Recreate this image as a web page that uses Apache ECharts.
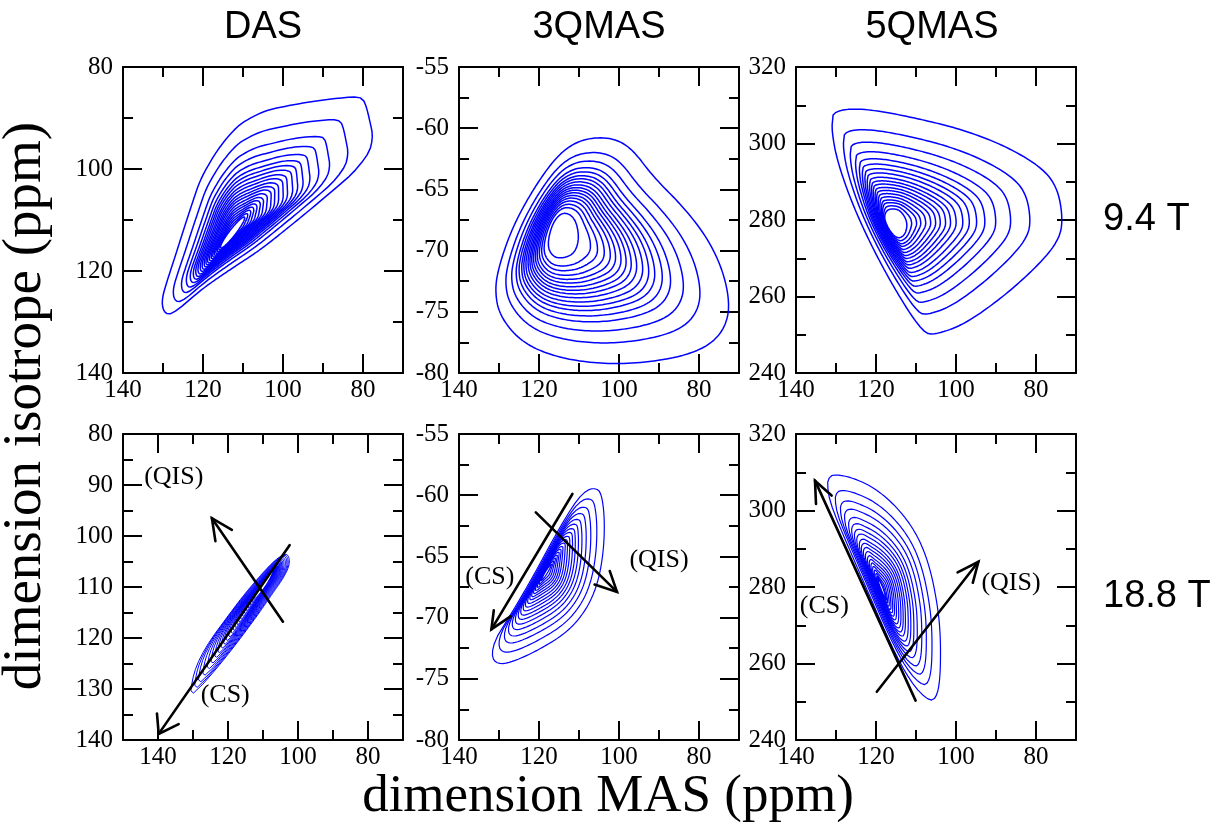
<!DOCTYPE html>
<html><head><meta charset="utf-8">
<script src="https://cdn.jsdelivr.net/npm/echarts@6/dist/echarts.min.js"></script>
<style>html,body{margin:0;padding:0;background:#fff}#c{width:1228px;height:838px}</style>
</head><body><div id="c"></div>
<script>
// ---------------- texts ----------------
const panelTitles = ['DAS', '3QMAS', '5QMAS'];
const fieldLabels = ['9.4 T', '18.8 T'];
const xTitle = 'dimension MAS (ppm)';
const yTitle = 'dimension isotrope (ppm)';
const annotTexts = ['(QIS)', '(CS)'];

// ---------------- axes (panel order: top DAS, 3QMAS, 5QMAS, bottom DAS, 3QMAS, 5QMAS) ----------------
const xRanges = [[70, 140], [70, 140], [70, 140], [70, 150], [70, 140], [70, 140]];
const yRanges = [[80, 140], [-80, -55], [240, 320], [80, 140], [-80, -55], [240, 320]];
const yInverse = [true, false, false, true, false, false];
const xMajor = [140, 120, 100, 80];
const xMinor = [130, 110, 90];
const yMajorDasTop = [80, 100, 120, 140];
const yMinorDasTop = [90, 110, 130];
const yMajor3q = [-80, -75, -70, -65, -60, -55];
const yMinor3q = [-77.5, -72.5, -67.5, -62.5, -57.5];
const yMajor5q = [240, 260, 280, 300, 320];
const yMinor5q = [250, 270, 290, 310];
const yMajorDasBot = [80, 90, 100, 110, 120, 130, 140];
const yMinorDasBot = [85, 95, 105, 115, 125, 135];

// ---------------- contour data ----------------
// each panel: peak centre, outermost contour, innermost contour, relative radial position of every contour level
// top DAS (9.4 T)
const dasTopCenter = [112.6, 112.45];
const dasTopOuter = [[128.5,128.7],[130.0,127.8],[130.3,125.5],[129.0,122.0],[126.9,117.0],[124.9,112.0],[122.6,106.5],[120.75,102.2],[118.0,98.3],[115.75,95.6],[112.5,92.5],[109.9,90.7],[104.1,88.4],[98.0,87.5],[93.25,86.8],[87.0,86.2],[82.4,85.8],[79.9,86.1],[78.9,88.5],[78.2,91.0],[77.6,93.0],[77.8,95.0],[78.6,97.0],[82.4,100.8],[87.5,104.2],[93.25,108.0],[99.5,112.0],[105.75,115.9],[112.0,119.1],[118.25,122.4],[122.5,125.0],[125.75,127.3]];
const dasTopInner = [[115.8,115.7],[114.37,115.04],[111.9,112.86],[109.85,110.44],[109.4,109.2],[110.83,109.86],[113.3,112.04],[115.35,114.46]];
const dasTopLevels = [0,0.029,0.057,0.084,0.111,0.139,0.166,0.197,0.229,0.258,0.289,0.324,0.357,0.396,0.434,0.475,0.527,0.594,0.676,0.814,1];
// top 3QMAS
const q3TopCenter = [114.0, -68.8];
const q3TopOuter = [[105.65,-60.73],[100.65,-60.9],[96.5,-61.77],[91.5,-63.95],[84.0,-66.4],[78.15,-68.85],[74.4,-71.3],[72.5,-73.77],[72.75,-75.68],[75.65,-77.3],[81.5,-78.4],[91.5,-79.1],[103.2,-79.3],[114.8,-78.8],[124.0,-77.6],[129.8,-75.4],[131.1,-73.2],[129.8,-71.0],[126.5,-68.0],[121.5,-65.0],[115.65,-62.3],[110.65,-61.1]];
const q3TopInner = [[114.0,-66.8],[116.6,-67.7],[118.0,-69.55],[116.6,-70.5],[114.0,-70.65],[111.0,-70.2],[109.9,-68.9],[111.0,-67.3]];
const q3TopLevels = [0,0.083,0.13,0.175,0.215,0.25,0.286,0.32,0.354,0.39,0.43,0.47,0.51,0.56,0.615,0.70,0.81,1];
// top 5QMAS
const q5TopCenter = [115.2, 279.3];
const q5TopOuter = [[130.7,308.0],[127.3,309.1],[120.7,308.8],[109.8,306.6],[98.2,303.6],[87.3,299.2],[78.2,293.5],[74.4,287.9],[73.2,279.1],[74.8,273.9],[79.8,267.8],[88.2,259.9],[98.2,252.5],[105.7,249.9],[108.2,250.7],[113.2,258.2],[119.8,270.4],[125.7,283.5],[129.8,295.7],[131.1,303.6],[130.8,306.6]];
const q5TopInner = [[116.1,283.0],[113.9,282.6],[112.1,279.5],[112.6,276.3],[114.4,275.0],[116.4,276.8],[118.0,280.3],[117.5,282.4]];
const q5TopLevels = [0,0.032,0.064,0.091,0.123,0.155,0.187,0.217,0.251,0.283,0.319,0.362,0.404,0.451,0.504,0.574,0.67,0.794,1];
// bottom DAS (18.8 T)
const dasBotCenter = [109.9, 109.7];
const dasBotOuter = [[130.77,130.5],[129.5,126.0],[126.0,121.3],[121.0,116.6],[116.0,112.0],[111.0,107.9],[106.3,104.5],[103.0,103.2],[102.2,105.4],[104.1,108.2],[107.0,111.0],[110.8,114.8],[115.5,119.2],[120.3,123.5],[125.5,127.8],[129.0,130.4],[130.3,131.0]];
const dasBotInner = [[113.5,113.3],[110.49,109.42],[106.3,106.1],[109.31,109.98]];
const dasBotLevels = [0,0.03,0.06,0.09,0.12,0.15,0.18,0.21,0.24,0.27,0.30,0.33,0.36,0.40,0.44,0.48,0.52,0.57,0.62,0.68,0.74,0.81,0.88,0.94,1];
// bottom 3QMAS
const q3BotCenter = [118.15, -66.3];
const q3BotOuter = [[105.65,-59.44],[104.4,-59.85],[103.6,-61.76],[103.8,-64.48],[105.25,-67.2],[108.15,-69.38],[113.15,-71.28],[121.5,-72.9],[128.15,-73.8],[131.1,-73.7],[131.9,-72.9],[130.65,-71.56],[127.3,-69.9],[121.5,-66.66],[115.65,-63.1],[110.65,-60.4],[107.75,-59.5]];
const q3BotInner = [[116.5,-65.43],[117.83,-66.37],[119.8,-67.2],[118.47,-66.23]];
const q3BotLevels = [0,0.045,0.083,0.122,0.16,0.199,0.237,0.282,0.327,0.372,0.423,0.474,0.532,0.596,0.673,0.756,0.865,1];
// bottom 5QMAS
const q5BotCenter = [118.55, 279.65];
const q5BotOuter = [[131.9,308.4],[130.7,309.5],[126.5,308.8],[120.7,306.2],[114.8,301.0],[109.8,294.0],[106.5,285.3],[104.4,274.0],[103.8,265.3],[104.0,254.8],[105.25,250.3],[107.3,250.6],[111.1,254.8],[115.7,263.5],[121.5,277.5],[127.3,291.4],[131.5,301.9],[132.2,306.7]];
const q5BotInner = [[119.8,283.1],[118.2,279.79],[117.3,276.2],[118.9,279.51]];
const q5BotLevels = [0,0.02,0.048,0.082,0.116,0.15,0.184,0.22,0.26,0.30,0.34,0.38,0.43,0.476,0.53,0.59,0.67,0.75,0.85,1];

// ---------------- arrows & annotation positions ----------------
const dasBotCsLine = [[102.4,101.8],[139.8,138.8]];
const dasBotCsHead = [[140.3,134.8],[139.8,138.8],[134.1,136.9]];
const dasBotQisLine = [[104.3,116.8],[124.6,96.5]];
const dasBotQisHead = [[123.6,101.0],[124.6,96.5],[118.9,98.8]];
const dasBotTextPos = [[135.5,88.4],[120.8,131.2]];
const q3BotCsLine = [[111.65,-59.9],[131.9,-70.96]];
const q3BotCsHead = [[131.3,-69.4],[131.9,-70.96],[127.1,-69.9]];
const q3BotQisLine = [[120.8,-61.4],[100.5,-67.9]];
const q3BotQisHead = [[102.3,-66.2],[100.5,-67.9],[106.1,-67.3]];
const q3BotTextPos = [[90,-65.3],[132.3,-66.7]];
const q5BotCsLine = [[110.1,250.3],[135.25,307.8]];
const q5BotCsHead = [[135.0,301.7],[135.25,307.8],[131.1,303.9]];
const q5BotQisLine = [[119.8,252.6],[94.4,286.6]];
const q5BotQisHead = [[99.6,283.8],[94.4,286.6],[95.8,281.1]];
const q5BotTextPos = [[86.25,281],[132.9,275]];

// ---------------- layout ----------------
const gridRects = [
  {left:123, top:67, width:280, height:306},{left:459, top:67, width:280, height:306},{left:796, top:67, width:280, height:306},
  {left:123, top:434, width:280, height:306},{left:459, top:434, width:280, height:306},{left:796, top:434, width:280, height:306}
];
const yMajors = [yMajorDasTop, yMajor3q, yMajor5q, yMajorDasBot, yMajor3q, yMajor5q];
const yMinors = [yMinorDasTop, yMinor3q, yMinor5q, yMinorDasBot, yMinor3q, yMinor5q];
const SERIF = '"Liberation Serif","Times New Roman",serif';
const SANS = '"Liberation Sans",Arial,sans-serif';

const xAxes = [], yAxes = [];
for (let g = 0; g < 6; g++) {
  for (const pos of ['bottom', 'top']) {
    for (const minor of [false, true]) {
      xAxes.push({
        type:'value', gridIndex:g, position:pos, min:xRanges[g][0], max:xRanges[g][1], inverse:true,
        axisLine:{show:!minor, onZero:false, lineStyle:{color:'#000', width:2}},
        axisTick:{show:true, inside:true, length:minor?10:19, customValues:minor?xMinor:xMajor, lineStyle:{color:'#000', width:2}},
        axisLabel:{show:(pos==='bottom' && !minor), customValues:xMajor, margin:5, fontFamily:SERIF, fontSize:25, color:'#000'},
        splitLine:{show:false}
      });
    }
  }
  for (const pos of ['left', 'right']) {
    for (const minor of [false, true]) {
      yAxes.push({
        type:'value', gridIndex:g, position:pos, min:yRanges[g][0], max:yRanges[g][1], inverse:yInverse[g],
        axisLine:{show:!minor, onZero:false, lineStyle:{color:'#000', width:2}},
        axisTick:{show:true, inside:true, length:minor?10:19, customValues:minor?yMinors[g]:yMajors[g], lineStyle:{color:'#000', width:2}},
        axisLabel:{show:(pos==='left' && !minor), customValues:yMajors[g], margin:10, fontFamily:SERIF, fontSize:25, color:'#000'},
        splitLine:{show:false}
      });
    }
  }
}

// ---- geometry helpers: smooth the read outlines, then cast rays from the peak ----
function chaikin(poly, n) {
  let p = poly;
  for (let k = 0; k < n; k++) {
    const q = [];
    for (let i = 0; i < p.length; i++) {
      const a = p[i], b = p[(i + 1) % p.length];
      q.push([0.75 * a[0] + 0.25 * b[0], 0.75 * a[1] + 0.25 * b[1]]);
      q.push([0.25 * a[0] + 0.75 * b[0], 0.25 * a[1] + 0.75 * b[1]]);
    }
    p = q;
  }
  return p;
}
function rayHit(poly, c, d) {
  let best = null;
  for (let i = 0; i < poly.length; i++) {
    const a = poly[i], b = poly[(i + 1) % poly.length];
    const ex = b[0] - a[0], ey = b[1] - a[1];
    const den = d[0] * ey - d[1] * ex;
    if (Math.abs(den) < 1e-12) continue;
    const wx = a[0] - c[0], wy = a[1] - c[1];
    const s = (wx * ey - wy * ex) / den;
    const u = (wx * d[1] - wy * d[0]) / den;
    if (s > 0 && u >= -1e-9 && u <= 1 + 1e-9) { if (best === null || s < best) best = s; }
  }
  return best === null ? 0 : best;
}

const panels = [
  {center:dasTopCenter, outer:dasTopOuter, inner:dasTopInner, levels:dasTopLevels, lw:1.5},
  {center:q3TopCenter, outer:q3TopOuter, inner:q3TopInner, levels:q3TopLevels, lw:1.5},
  {center:q5TopCenter, outer:q5TopOuter, inner:q5TopInner, levels:q5TopLevels, lw:1.5},
  {center:dasBotCenter, outer:dasBotOuter, inner:dasBotInner, levels:dasBotLevels, lw:1},
  {center:q3BotCenter, outer:q3BotOuter, inner:q3BotInner, levels:q3BotLevels, lw:1.2},
  {center:q5BotCenter, outer:q5BotOuter, inner:q5BotInner, levels:q5BotLevels, lw:1.2}
];
const NRAY = 240;

const series = [];
panels.forEach((p, g) => {
  const sx = gridRects[g].width / (xRanges[g][1] - xRanges[g][0]);
  const sy = gridRects[g].height / (yRanges[g][1] - yRanges[g][0]);
  const outerS = chaikin(p.outer, 3), innerS = chaikin(p.inner, 2);
  const rays = [];
  for (let k = 0; k < NRAY; k++) {
    const th = 2 * Math.PI * k / NRAY;
    const d = [Math.cos(th) / sx, Math.sin(th) / sy];
    rays.push({d: d, rin: rayHit(innerS, p.center, d), rout: rayHit(outerS, p.center, d)});
  }
  series.push({
    type:'custom', xAxisIndex:g*4, yAxisIndex:g*4, silent:true, z:2,
    data:p.levels.map(t => [p.center[0], p.center[1], t]),
    renderItem:function (params, api) {
      const t = api.value(2);
      const pts = rays.map(r => {
        const s = r.rin + t * (r.rout - r.rin);
        return api.coord([p.center[0] + s * r.d[0], p.center[1] + s * r.d[1]]);
      });
      return {type:'polygon', shape:{points:pts}, style:{fill:'none', stroke:'#0000ff', lineWidth:p.lw, lineJoin:'round'}};
    }
  });
});

const annot = [
  {g:3, lines:[dasBotCsLine, dasBotCsHead, dasBotQisLine, dasBotQisHead], pos:dasBotTextPos},
  {g:4, lines:[q3BotCsLine, q3BotCsHead, q3BotQisLine, q3BotQisHead], pos:q3BotTextPos},
  {g:5, lines:[q5BotCsLine, q5BotCsHead, q5BotQisLine, q5BotQisHead], pos:q5BotTextPos}
];
annot.forEach(a => {
  a.lines.forEach(l => series.push({
    type:'line', xAxisIndex:a.g*4, yAxisIndex:a.g*4, data:l, symbol:'none', silent:true, z:5,
    lineStyle:{color:'#000', width:2.6, cap:'round', join:'miter'}
  }));
  series.push({
    type:'custom', xAxisIndex:a.g*4, yAxisIndex:a.g*4, silent:true, z:6,
    data:a.pos.map((q, i) => [q[0], q[1], i]),
    renderItem:function (params, api) {
      const c = api.coord([api.value(0), api.value(1)]);
      return {type:'text', x:c[0], y:c[1], style:{text:annotTexts[api.value(2)], fontFamily:SERIF, fontSize:26, fill:'#000', align:'center', verticalAlign:'middle'}};
    }
  });
});

const graphic = [];
const titleX = [263, 599, 932];
panelTitles.forEach((t, i) => graphic.push({type:'text', x:titleX[i], y:28, style:{text:t, font:'38px ' + SANS, fill:'#000', textAlign:'center', textVerticalAlign:'middle'}}));
graphic.push({type:'text', x:1103, y:220, style:{text:fieldLabels[0], font:'38px ' + SANS, fill:'#000', textAlign:'left', textVerticalAlign:'middle'}});
graphic.push({type:'text', x:1103, y:597, style:{text:fieldLabels[1], font:'38px ' + SANS, fill:'#000', textAlign:'left', textVerticalAlign:'middle'}});
graphic.push({type:'text', x:608, y:797, style:{text:xTitle, font:'53px ' + SERIF, fill:'#000', textAlign:'center', textVerticalAlign:'middle'}});
graphic.push({type:'text', x:26, y:406, rotation:Math.PI/2, style:{text:yTitle, font:'55px ' + SERIF, fill:'#000', textAlign:'center', textVerticalAlign:'middle'}});

const chart = echarts.init(document.getElementById('c'), null, {renderer:'canvas'});
chart.setOption({
  animation:false,
  backgroundColor:'#fff',
  grid:gridRects.map(r => Object.assign({outerBoundsMode:'none', containLabel:false}, r)),
  xAxis:xAxes,
  yAxis:yAxes,
  series:series,
  graphic:graphic
});
</script></body></html>
